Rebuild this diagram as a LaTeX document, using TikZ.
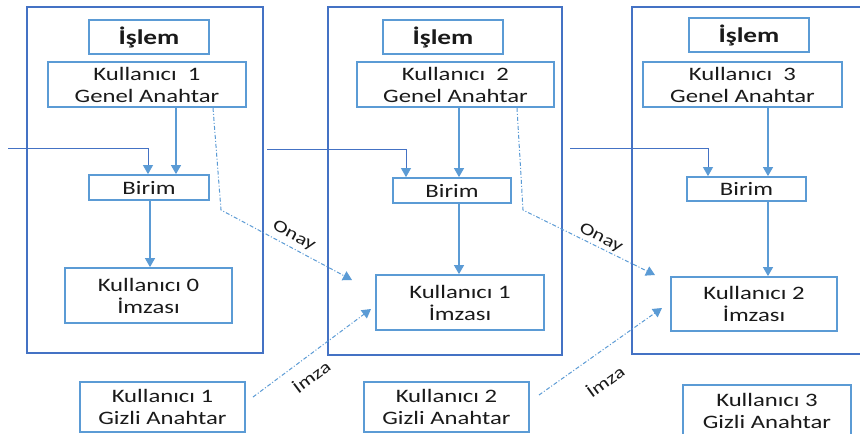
\documentclass[tikz,border=0pt]{standalone}
\usepackage{fontspec}
\setmainfont[FakeStretch=1.3]{Carlito}
\usetikzlibrary{arrows.meta}
\definecolor{ob}{HTML}{4472C4}
\definecolor{ib}{HTML}{5B9BD5}
\definecolor{tx}{HTML}{1A1A1A}
\begin{document}
\begin{tikzpicture}[x=1pt,y=-1pt,
  ibox/.style={draw=ib, line width=1.8pt, align=center, text=tx, inner sep=0pt, font=\fontsize{19}{22}\selectfont},
  tbox/.style={ibox, font=\fontsize{21}{24}\selectfont\bfseries},
  obox/.style={draw=ob, line width=2pt, inner sep=0pt},
  arr/.style={draw=ib, line width=1.2pt, -{Triangle[width=10pt,length=9pt]}},
  feed/.style={draw=ob, line width=0.8pt, -{Triangle[width=10pt,length=9pt,color=ib]}},
  dd/.style={draw=ib, line width=1pt, dash pattern=on 4pt off 2pt on 1pt off 2pt, -{Triangle[width=10pt,length=9pt]}},
  lab/.style={text=tx, font=\fontsize{17}{20}\selectfont, inner sep=0pt}]
\useasboundingbox (0,0) rectangle (860,434);
\fill[white] (0,0) rectangle (860,434);
% outer boxes
\node[obox, minimum width=236, minimum height=346] (o1) at (145,180) {};
\node[obox, minimum width=234, minimum height=348] (o2) at (445,181) {};
\node[obox, minimum width=248, minimum height=347] (o3) at (756,180.5) {};
% box 1
\node[tbox, minimum width=120, minimum height=34] (i1) at (149,37) {İşlem};
\node[ibox, minimum width=198, minimum height=45] (g1) at (147,84.5) {Kullanıcı\ \ 1\\Genel Anahtar};
\node[ibox, minimum width=120, minimum height=25] (b1) at (149,187.5) {Birim};
\node[ibox, minimum width=167, minimum height=55] (s1) at (148.5,295.5) {Kullanıcı 0\\İmzası};
\node[ibox, minimum width=165, minimum height=50] (k1) at (162.5,407) {Kullanıcı 1\\Gizli Anahtar};
% box 2
\node[tbox, minimum width=120, minimum height=34] (i2) at (443,37) {İşlem};
\node[ibox, minimum width=197, minimum height=45] (g2) at (455.5,84.5) {Kullanıcı\ \ 2\\Genel Anahtar};
\node[ibox, minimum width=118, minimum height=25] (b2) at (452,190.5) {Birim};
\node[ibox, minimum width=168, minimum height=55] (s2) at (460,302.5) {Kullanıcı 1\\İmzası};
\node[ibox, minimum width=165, minimum height=50] (k2) at (446.5,407) {Kullanıcı 2\\Gizli Anahtar};
% box 3
\node[tbox, minimum width=120, minimum height=34] (i3) at (749,35) {İşlem};
\node[ibox, minimum width=199, minimum height=45] (g3) at (742.5,84.5) {Kullanıcı\ \ 3\\Genel Anahtar};
\node[ibox, minimum width=119, minimum height=24] (b3) at (746.5,189) {Birim};
\node[ibox, minimum width=166, minimum height=54] (s3) at (754,304) {Kullanıcı 2\\İmzası};
\node[ibox, minimum width=168, minimum height=52] (k3) at (767,411) {Kullanıcı 3\\Gizli Anahtar};
% feed lines
\coordinate (f1) at (8,148);
\coordinate (f2) at (267,149);
\coordinate (f3) at (570,148);
\coordinate (f1x) at (148,0);
\coordinate (f2x) at (406,0);
\coordinate (f3x) at (708,0);
\draw[feed] (f1) -| (b1.north -| f1x);
\draw[feed] (f2) -| (b2.north -| f2x);
\draw[feed] (f3) -| (b3.north -| f3x);
% vertical arrows
\coordinate (a1) at (176,0);
\coordinate (a2) at (459,0);
\coordinate (a3) at (768,0);
\coordinate (d1) at (150,0);
\draw[arr] (g1.south -| a1) -- (b1.north -| a1);
\draw[arr] (g2.south -| a2) -- (b2.north -| a2);
\draw[arr] (g3.south -| a3) -- (b3.north -| a3);
\draw[arr] (b1.south -| d1) -- (s1.north -| d1);
\draw[arr] (b2.south -| a2) -- (s2.north -| a2);
\draw[arr] (b3.south -| a3) -- (s3.north -| a3);
% Onay
\coordinate (on1x) at (213,0);
\coordinate (on1m) at (221,210);
\coordinate (on1e) at (352,280);
\draw[dd] (g1.south -| on1x) -- (on1m) -- (on1e);
\node[lab, rotate=-28] (onay1) at (294,236) {Onay};
\coordinate (on2x) at (517,0);
\coordinate (on2m) at (523,210);
\coordinate (on2e) at (655,275);
\draw[dd] (g2.south -| on2x) -- (on2m) -- (on2e);
\node[lab, rotate=-27] (onay2) at (601,238) {Onay};
% Imza
\coordinate (im1s) at (253,397);
\coordinate (im1e) at (371,309);
\draw[dd] (im1s) -- (im1e);
\node[lab, rotate=37] (imza1) at (311,376) {İmza};
\coordinate (im2s) at (539,395);
\coordinate (im2e) at (662,308);
\draw[dd] (im2s) -- (im2e);
\node[lab, rotate=36] (imza2) at (605,381) {İmza};
\end{tikzpicture}
\end{document}
